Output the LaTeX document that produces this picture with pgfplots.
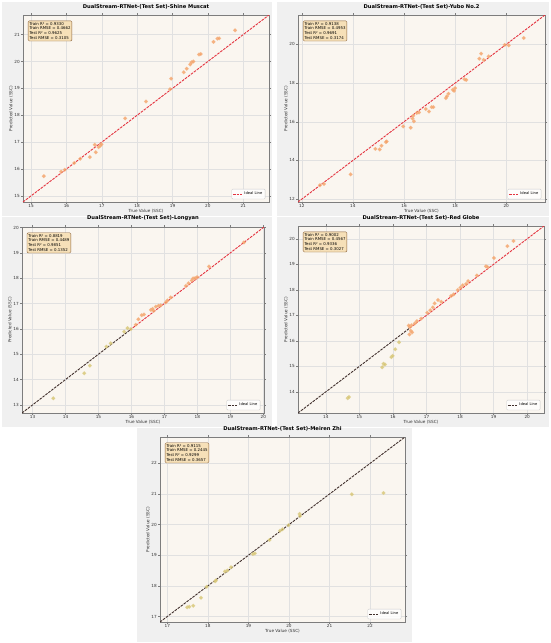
\documentclass[border=0pt]{standalone}
\usepackage{fontspec}
\setmainfont{DejaVu Sans}
\usepackage{pgfplots}
\pgfplotsset{compat=1.18}
\definecolor{figbg}{RGB}{240,240,240}
\definecolor{axbg}{RGB}{250,246,240}
\definecolor{gridc}{RGB}{225,225,225}
\definecolor{spine}{RGB}{125,125,125}
\definecolor{ptor}{RGB}{244,160,100}
\definecolor{ptkh}{RGB}{214,196,112}
\definecolor{idredc}{RGB}{228,52,64}
\definecolor{iddarkc}{RGB}{65,48,45}
\definecolor{wheatbox}{RGB}{246,224,184}
\definecolor{boxedge}{RGB}{140,100,60}
\tikzset{
  statbox/.style={anchor=north west, fill=wheatbox, draw=boxedge, line width=0.4pt, rounded corners=1.2pt,
    font=\fontsize{3.9}{4.8}\selectfont, align=left, inner sep=1.4pt},
}
\pgfplotsset{
  panel/.style={
    scale only axis,
    anchor=south west,
    axis background/.style={fill=axbg},
    grid=major,
    grid style={gridc, line width=0.35pt},
    axis line style={draw=spine, line width=0.8pt},
    tick align=outside,
    major tick length=2pt,
    tick style={spine, line width=0.4pt},
    scaled ticks=false,
    xticklabel={\pgfmathparse{int(round(\tick))}\pgfmathresult},
    yticklabel={\pgfmathparse{int(round(\tick))}\pgfmathresult},
    tick label style={font=\fontsize{4.2}{4.6}\selectfont, text=black!80, inner sep=1pt},
    xticklabel style={yshift=0.5pt},
    xlabel={True Value (SSC)},
    ylabel={Predicted Value (SSC)},
    label style={font=\fontsize{4.2}{4.6}\selectfont, text=black!80},
    xlabel style={yshift=3pt},
    ylabel style={yshift=-3pt},
    title style={font=\bfseries\fontsize{5.2}{6}\selectfont, yshift=-3.5pt},
    legend style={at={(0.985,0.015)}, anchor=south east, font=\fontsize{3.7}{4.1}\selectfont,
      draw=black!20, fill=white, fill opacity=0.85, text opacity=1, rounded corners=1pt,
      inner sep=0.8pt, row sep=0pt},
    legend image code/.code={\draw[#1] (0pt,0pt) -- (9pt,0pt);},
  },
  lineRed/.style={draw=idredc, line width=0.9pt, dash pattern=on 2.6pt off 1.1pt},
  lineDark/.style={draw=iddarkc, line width=0.9pt, dash pattern=on 2.6pt off 1.1pt},
  ptsO/.style={only marks, mark=*, mark size=1.9pt, forget plot,
    mark options={fill=ptor, draw=ptor!70!white, fill opacity=0.8, draw opacity=0.6, line width=0.3pt}},
  ptsK/.style={only marks, mark=*, mark size=1.9pt, forget plot,
    mark options={fill=ptkh, draw=ptkh!70!white, fill opacity=0.8, draw opacity=0.6, line width=0.3pt}},
}
\begin{document}
\begin{tikzpicture}
\fill[white] (0pt,0pt) rectangle (550pt,-643pt);
\fill[figbg] (2pt,-2pt) rectangle (272pt,-216pt);
\fill[figbg] (277pt,-2pt) rectangle (549pt,-216pt);
\fill[figbg] (2pt,-217pt) rectangle (272pt,-427pt);
\fill[figbg] (277pt,-217pt) rectangle (549pt,-427pt);
\fill[figbg] (137pt,-428pt) rectangle (412pt,-642pt);

% Panel 1: Shine Muscat
\begin{axis}[panel, at={(23pt,-202pt)}, width=246pt, height=187pt,
  xmin=14.77, xmax=21.73, ymin=14.77, ymax=21.73,
  xtick={15,...,21}, ytick={15,...,21},
  title={DualStream-RTNet-(Test Set)-Shine Muscat}]
\addplot[lineRed] coordinates {(14.77,14.77) (21.73,21.73)};
\addlegendentry{Ideal Line}
\addplot[ptsO] coordinates {
(15.36,15.73) (15.85,15.90) (15.95,15.97) (16.22,16.22) (16.39,16.38)
(16.66,16.44) (16.80,16.90) (16.83,16.62) (16.91,16.81) (16.96,16.87)
(16.99,16.92) (17.66,17.88) (18.25,18.51) (18.96,19.36) (18.93,18.97)
(19.32,19.60) (19.40,19.73) (19.50,19.89) (19.54,19.97) (19.59,20.00)
(19.75,20.26) (19.80,20.28) (20.16,20.73) (20.27,20.85) (20.32,20.86)
(20.77,21.16)};
\node[statbox] at (rel axis cs:0.02,0.97) {Train R² = 0.9330\\Train RMSE = 0.4662\\Test R² = 0.9625\\Test RMSE = 0.3105};
\end{axis}

% Panel 2: Yubo No.2
\begin{axis}[panel, at={(298pt,-202pt)}, width=247pt, height=187pt,
  xmin=11.85, xmax=21.52, ymin=11.85, ymax=21.52,
  xtick={12,14,...,20}, ytick={12,14,...,20},
  title={DualStream-RTNet-(Test Set)-Yubo No.2}]
\addplot[lineRed] coordinates {(11.85,11.85) (21.52,21.52)};
\addlegendentry{Ideal Line}
\addplot[ptsO] coordinates {
(12.71,12.72) (12.87,12.78) (13.91,13.28) (14.88,14.60) (15.05,14.57)
(15.12,14.76) (15.29,14.95) (15.32,14.98) (15.97,15.76) (16.26,15.69)
(16.33,16.17) (16.39,16.02) (16.36,16.31) (16.50,16.45) (16.59,16.48)
(16.85,16.66) (16.98,16.53) (17.08,16.76) (17.15,16.76) (17.64,17.22)
(17.68,17.31) (17.74,17.45) (17.91,17.66) (17.96,17.60) (18.00,17.74)
(18.37,18.20) (18.44,18.16) (18.95,19.26) (19.02,19.52) (19.12,19.20)
(19.31,19.38) (19.94,19.97) (20.10,19.95) (20.69,20.33)};
\node[statbox] at (rel axis cs:0.02,0.97) {Train R² = 0.9138\\Train RMSE = 0.4953\\Test R² = 0.9691\\Test RMSE = 0.3174};
\end{axis}

% Panel 3: Longyan
\begin{axis}[panel, at={(22pt,-413pt)}, width=242pt, height=186pt,
  xmin=12.68, xmax=20.02, ymin=12.68, ymax=20.02,
  xtick={13,...,20}, ytick={13,...,20},
  title={DualStream-RTNet-(Test Set)-Longyan}]
\addplot[lineDark] coordinates {(12.68,12.68) (15.95,15.95)};
\addlegendentry{Ideal Line}
\addplot[lineRed, forget plot] coordinates {(15.95,15.95) (20.02,20.02)};
\addplot[ptsK] coordinates {
(13.63,13.26) (14.57,14.25) (14.74,14.55) (15.24,15.30) (15.37,15.43)
(15.78,15.89) (15.88,16.03) (15.98,15.99)};
\addplot[ptsO] coordinates {
(16.13,16.16) (16.21,16.38) (16.31,16.54) (16.38,16.57) (16.59,16.75)
(16.64,16.79) (16.67,16.71) (16.74,16.88) (16.82,16.91) (16.89,16.93)
(17.04,17.04) (17.09,17.12) (17.19,17.24) (17.65,17.70) (17.73,17.80)
(17.83,17.91) (17.87,17.99) (17.93,18.00) (17.99,18.04) (18.35,18.46)
(19.41,19.41)};
\node[statbox] at (rel axis cs:0.02,0.97) {Train R² = 0.8819\\Train RMSE = 0.4489\\Test R² = 0.9851\\Test RMSE = 0.1352};
\end{axis}

% Panel 4: Red Globe
\begin{axis}[panel, at={(298pt,-413pt)}, width=246pt, height=187pt,
  xmin=13.17, xmax=20.50, ymin=13.17, ymax=20.50,
  xtick={14,...,20}, ytick={14,...,20},
  title={DualStream-RTNet-(Test Set)-Red Globe}]
\addplot[lineDark] coordinates {(13.17,13.17) (16.5,16.5)};
\addlegendentry{Ideal Line}
\addplot[lineRed, forget plot] coordinates {(16.5,16.5) (20.50,20.50)};
\addplot[ptsK] coordinates {
(14.65,13.75) (14.69,13.80) (15.68,14.96) (15.72,15.10) (15.76,15.07)
(15.95,15.36) (15.99,15.41) (16.07,15.67) (16.18,15.94)};
\addplot[ptsO] coordinates {
(16.49,16.25) (16.53,16.39) (16.57,16.33) (16.50,16.54) (16.55,16.61)
(16.47,16.60) (16.65,16.68) (16.71,16.77) (16.84,16.87) (17.02,17.10)
(17.11,17.20) (17.19,17.31) (17.24,17.47) (17.34,17.60) (17.44,17.53)
(17.73,17.76) (17.81,17.82) (17.93,17.99) (18.01,18.09) (18.08,18.18)
(18.18,18.23) (18.24,18.34) (18.50,18.56) (18.77,18.92) (18.82,18.89)
(19.01,19.25) (19.41,19.71) (19.59,19.91)};
\node[statbox] at (rel axis cs:0.02,0.97) {Train R² = 0.9002\\Train RMSE = 0.4567\\Test R² = 0.9336\\Test RMSE = 0.3027};
\end{axis}

% Panel 5: Meiren Zhi
\begin{axis}[panel, at={(160pt,-622pt)}, width=245pt, height=185pt,
  xmin=16.82, xmax=22.86, ymin=16.82, ymax=22.86,
  xtick={17,...,22}, ytick={17,...,22},
  title={DualStream-RTNet-(Test Set)-Meiren Zhi}]
\addplot[lineDark] coordinates {(16.82,16.82) (22.86,22.86)};
\addlegendentry{Ideal Line}
\addplot[ptsK] coordinates {
(17.49,17.30) (17.54,17.32) (17.64,17.35) (17.83,17.61) (17.97,17.97)
(18.18,18.15) (18.20,18.18) (18.42,18.47) (18.48,18.50) (18.57,18.61)
(19.11,19.04) (19.16,19.06) (19.52,19.50) (19.78,19.80) (19.84,19.85)
(19.99,19.98) (20.26,20.35) (20.27,20.28) (21.55,20.99) (22.33,21.03)};
\node[statbox] at (rel axis cs:0.02,0.97) {Train R² = 0.9115\\Train RMSE = 0.2445\\Test R² = 0.9299\\Test RMSE = 0.3657};
\end{axis}
\end{tikzpicture}
\end{document}
